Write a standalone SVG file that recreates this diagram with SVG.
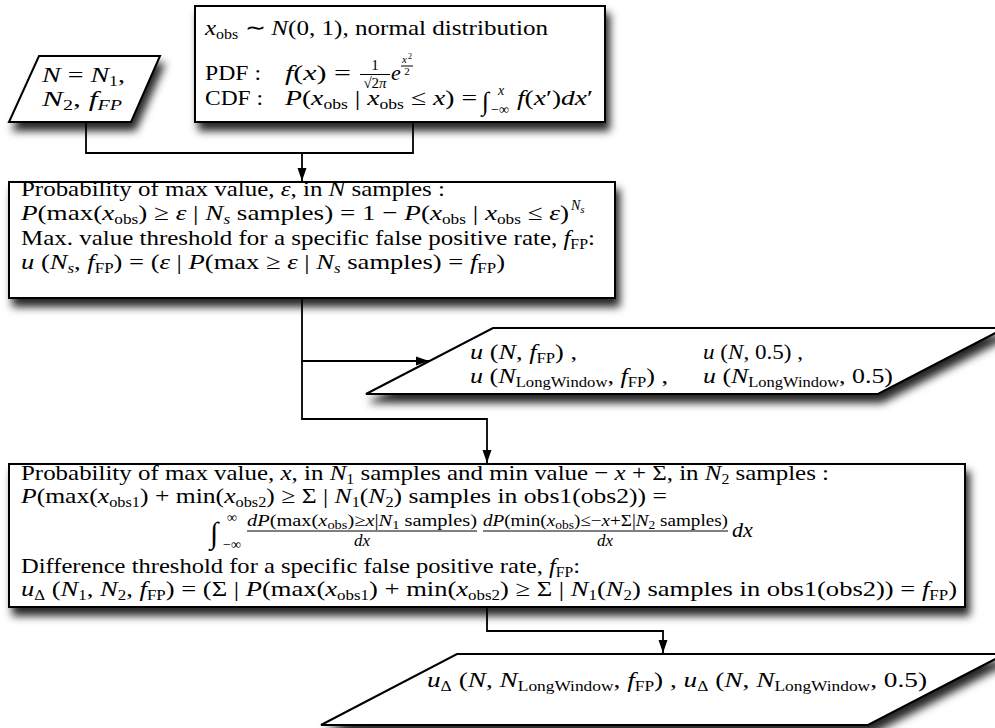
<svg xmlns="http://www.w3.org/2000/svg" width="995" height="728" viewBox="0 0 995 728">
<defs>
<style>
.t{font-family:"Liberation Serif","Times New Roman",serif;font-size:22px;fill:#000}
.i{font-style:italic}
.s{font-size:14px}
.f{font-size:17px}
.shape{fill:#fff;stroke:#000;stroke-width:2;filter:url(#sh)}
.con{fill:none;stroke:#000;stroke-width:1.8}
.bar{stroke:#000;stroke-width:1}
</style>
<filter id="sh" x="-10%" y="-10%" width="130%" height="160%">
<feDropShadow dx="4" dy="8" stdDeviation="4.5" flood-color="#000" flood-opacity="0.85"/>
</filter>
<marker id="ah" markerUnits="userSpaceOnUse" markerWidth="14" markerHeight="10" refX="13" refY="5" orient="auto">
<path d="M0,0.5 L13,5 L0,9.5 z" fill="#000"/>
</marker>
</defs>
<rect width="995" height="728" fill="#fff"/>

<g id="connectors">
<path class="con" d="M86,122 V153 H302"/>
<path class="con" d="M413,122 V153 H302"/>
<path class="con" d="M302,153 V181" marker-end="url(#ah)"/>
<path class="con" d="M302,298 V361 H429" marker-end="url(#ah)"/>
<path class="con" d="M302,361 V419 H487 V463" marker-end="url(#ah)"/>
<path class="con" d="M487,607 V631 H663 V653" marker-end="url(#ah)"/>
</g>

<g id="input">
<polygon class="shape" points="39,56 160,56 131,122 9,122"/>
<text class="t" x="42" y="82" textLength="83" lengthAdjust="spacingAndGlyphs"><tspan class="i">N</tspan> = <tspan class="i">N</tspan><tspan class="s" dy="4">1</tspan><tspan dy="-4">,</tspan></text>
<text class="t" x="42" y="106" textLength="80" lengthAdjust="spacingAndGlyphs"><tspan class="i">N</tspan><tspan class="s" dy="4">2</tspan><tspan dy="-4">,  </tspan><tspan class="i">f</tspan><tspan class="s i" dy="4">FP</tspan></text>
</g>

<g id="distribution">
<rect class="shape" x="195" y="6" width="410" height="116"/>
<text class="t" x="205" y="35" textLength="343" lengthAdjust="spacingAndGlyphs"><tspan class="i">x</tspan><tspan class="s" dy="4">obs</tspan><tspan dy="-4"> ∼ </tspan><tspan class="i">N</tspan>(0, 1),  normal distribution</text>
<text class="t" x="205" y="80" textLength="56" lengthAdjust="spacingAndGlyphs">PDF :</text>
<text class="t" x="285" y="80" textLength="66" lengthAdjust="spacingAndGlyphs"><tspan class="i">f</tspan>(<tspan class="i">x</tspan>) =</text>
<text class="t" x="375" y="70" text-anchor="middle" style="font-size:15px">1</text>
<line class="bar" x1="360" y1="74.5" x2="390" y2="74.5"/>
<text class="t" x="375" y="88" text-anchor="middle" style="font-size:15px">√2<tspan class="i">π</tspan></text>
<text class="t i" x="391" y="80">e</text>
<text class="t i" x="402" y="63" style="font-size:11px">x</text>
<text class="t" x="408" y="59" style="font-size:8px">2</text>
<line class="bar" x1="401" y1="66" x2="413" y2="66"/>
<text class="t" x="407" y="75" text-anchor="middle" style="font-size:11px">2</text>
<text class="t" x="205" y="105" textLength="58" lengthAdjust="spacingAndGlyphs">CDF :</text>
<text class="t" x="285" y="105" textLength="192" lengthAdjust="spacingAndGlyphs"><tspan class="i">P</tspan>(<tspan class="i">x</tspan><tspan class="s" dy="4">obs</tspan><tspan dy="-4"> | </tspan><tspan class="i">x</tspan><tspan class="s" dy="4">obs</tspan><tspan dy="-4"> ≤ </tspan><tspan class="i">x</tspan>) =</text>
<text class="t" x="482" y="110" style="font-size:26px">∫</text>
<text class="t s i" x="498" y="95">x</text>
<text class="t s" x="491" y="114">−∞</text>
<text class="t" x="517" y="105" textLength="76" lengthAdjust="spacingAndGlyphs"><tspan class="i">f</tspan>(<tspan class="i">x</tspan>′)<tspan class="i">dx</tspan>′</text>
</g>

<g id="max-threshold">
<rect class="shape" x="9" y="182" width="606" height="116"/>
<text class="t" x="21" y="196" textLength="424" lengthAdjust="spacingAndGlyphs">Probability of max value, <tspan class="i">ε</tspan>,  in <tspan class="i">N</tspan> samples :</text>
<text class="t" x="21" y="220" textLength="548" lengthAdjust="spacingAndGlyphs"><tspan class="i">P</tspan>(max(<tspan class="i">x</tspan><tspan class="s" dy="4">obs</tspan><tspan dy="-4">) ≥ </tspan><tspan class="i">ε</tspan> | <tspan class="i">N</tspan><tspan class="s i" dy="4">s</tspan><tspan dy="-4"> samples) = 1 − </tspan><tspan class="i">P</tspan>(<tspan class="i">x</tspan><tspan class="s" dy="4">obs</tspan><tspan dy="-4"> | </tspan><tspan class="i">x</tspan><tspan class="s" dy="4">obs</tspan><tspan dy="-4"> ≤ </tspan><tspan class="i">ε</tspan>)</text>
<text class="t s i" x="571" y="210">N<tspan style="font-size:11px" dy="3">s</tspan></text>
<text class="t" x="21" y="245" textLength="574" lengthAdjust="spacingAndGlyphs">Max. value threshold for a specific false positive rate, <tspan class="i">f</tspan><tspan class="s" dy="4">FP</tspan><tspan dy="-4">:</tspan></text>
<text class="t" x="21" y="269" textLength="484" lengthAdjust="spacingAndGlyphs"><tspan class="i">u</tspan> (<tspan class="i">N</tspan><tspan class="s i" dy="4">s</tspan><tspan dy="-4">, </tspan><tspan class="i">f</tspan><tspan class="s" dy="4">FP</tspan><tspan dy="-4">) = (</tspan><tspan class="i">ε</tspan> | <tspan class="i">P</tspan>(max ≥ <tspan class="i">ε</tspan> | <tspan class="i">N</tspan><tspan class="s i" dy="4">s</tspan><tspan dy="-4"> samples) = </tspan><tspan class="i">f</tspan><tspan class="s" dy="4">FP</tspan><tspan dy="-4">)</tspan></text>
</g>

<g id="max-output">
<polygon class="shape" points="493,328 1005,328 878,394 366,394"/>
<text class="t" x="470" y="359" textLength="107" lengthAdjust="spacingAndGlyphs"><tspan class="i">u</tspan> (<tspan class="i">N</tspan>, <tspan class="i">f</tspan><tspan class="s" dy="4">FP</tspan><tspan dy="-4">) ,</tspan></text>
<text class="t" x="470" y="383" textLength="198" lengthAdjust="spacingAndGlyphs"><tspan class="i">u</tspan> (<tspan class="i">N</tspan><tspan class="s" dy="4">LongWindow</tspan><tspan dy="-4">, </tspan><tspan class="i">f</tspan><tspan class="s" dy="4">FP</tspan><tspan dy="-4">) ,</tspan></text>
<text class="t" x="703" y="359" textLength="100" lengthAdjust="spacingAndGlyphs"><tspan class="i">u</tspan> (<tspan class="i">N</tspan>, 0.5) ,</text>
<text class="t" x="703" y="383" textLength="190" lengthAdjust="spacingAndGlyphs"><tspan class="i">u</tspan> (<tspan class="i">N</tspan><tspan class="s" dy="4">LongWindow</tspan><tspan dy="-4">, 0.5)</tspan></text>
</g>

<g id="difference-threshold">
<rect class="shape" x="9" y="464" width="956" height="143"/>
<text class="t" x="21" y="480" textLength="808" lengthAdjust="spacingAndGlyphs">Probability of max value, <tspan class="i">x</tspan>,  in <tspan class="i">N</tspan><tspan class="s" dy="4">1</tspan><tspan dy="-4"> samples and min value  − </tspan><tspan class="i">x</tspan> + Σ,  in <tspan class="i">N</tspan><tspan class="s" dy="4">2</tspan><tspan dy="-4"> samples :</tspan></text>
<text class="t" x="21" y="503" textLength="646" lengthAdjust="spacingAndGlyphs"><tspan class="i">P</tspan>(max(<tspan class="i">x</tspan><tspan class="s" dy="4">obs1</tspan><tspan dy="-4">) + min(</tspan><tspan class="i">x</tspan><tspan class="s" dy="4">obs2</tspan><tspan dy="-4">) ≥ Σ | </tspan><tspan class="i">N</tspan><tspan class="s" dy="4">1</tspan><tspan dy="-4">(</tspan><tspan class="i">N</tspan><tspan class="s" dy="4">2</tspan><tspan dy="-4">) samples in obs1(obs2)) =</tspan></text>
<text class="t" x="210" y="543" style="font-size:30px">∫</text>
<text class="t s" x="227" y="522">∞</text>
<text class="t s" x="223" y="549">−∞</text>
<text class="t f" x="247" y="526" textLength="230" lengthAdjust="spacingAndGlyphs"><tspan class="i">dP</tspan>(max(<tspan class="i">x</tspan><tspan style="font-size:12px" dy="3">obs</tspan><tspan dy="-3">)≥</tspan><tspan class="i">x</tspan>|<tspan class="i">N</tspan><tspan style="font-size:12px" dy="3">1</tspan><tspan dy="-3"> samples)</tspan></text>
<line class="bar" x1="247" y1="531" x2="477" y2="531"/>
<text class="t f i" x="362" y="546" text-anchor="middle">dx</text>
<text class="t f" x="483" y="526" textLength="245" lengthAdjust="spacingAndGlyphs"><tspan class="i">dP</tspan>(min(<tspan class="i">x</tspan><tspan style="font-size:12px" dy="3">obs</tspan><tspan dy="-3">)≤−</tspan><tspan class="i">x</tspan>+Σ|<tspan class="i">N</tspan><tspan style="font-size:12px" dy="3">2</tspan><tspan dy="-3"> samples)</tspan></text>
<line class="bar" x1="483" y1="531" x2="728" y2="531"/>
<text class="t f i" x="605" y="546" text-anchor="middle">dx</text>
<text class="t i" x="732" y="537">dx</text>
<text class="t" x="21" y="573" textLength="559" lengthAdjust="spacingAndGlyphs">Difference threshold for a specific false positive rate, <tspan class="i">f</tspan><tspan class="s" dy="4">FP</tspan><tspan dy="-4">:</tspan></text>
<text class="t" x="21" y="596" textLength="936" lengthAdjust="spacingAndGlyphs"><tspan class="i">u</tspan><tspan class="s" dy="4">Δ</tspan><tspan dy="-4"> (</tspan><tspan class="i">N</tspan><tspan class="s" dy="4">1</tspan><tspan dy="-4">, </tspan><tspan class="i">N</tspan><tspan class="s" dy="4">2</tspan><tspan dy="-4">, </tspan><tspan class="i">f</tspan><tspan class="s" dy="4">FP</tspan><tspan dy="-4">) = (Σ | </tspan><tspan class="i">P</tspan>(max(<tspan class="i">x</tspan><tspan class="s" dy="4">obs1</tspan><tspan dy="-4">) + min(</tspan><tspan class="i">x</tspan><tspan class="s" dy="4">obs2</tspan><tspan dy="-4">) ≥ Σ | </tspan><tspan class="i">N</tspan><tspan class="s" dy="4">1</tspan><tspan dy="-4">(</tspan><tspan class="i">N</tspan><tspan class="s" dy="4">2</tspan><tspan dy="-4">) samples in obs1(obs2)) = </tspan><tspan class="i">f</tspan><tspan class="s" dy="4">FP</tspan><tspan dy="-4">)</tspan></text>
</g>

<g id="difference-output">
<polygon class="shape" points="457,654 1005,654 868,725 321,725"/>
<text class="t" x="427" y="687" textLength="500" lengthAdjust="spacingAndGlyphs"><tspan class="i">u</tspan><tspan class="s" dy="4">Δ</tspan><tspan dy="-4"> (</tspan><tspan class="i">N</tspan>, <tspan class="i">N</tspan><tspan class="s" dy="4">LongWindow</tspan><tspan dy="-4">, </tspan><tspan class="i">f</tspan><tspan class="s" dy="4">FP</tspan><tspan dy="-4">) ,  </tspan><tspan class="i">u</tspan><tspan class="s" dy="4">Δ</tspan><tspan dy="-4"> (</tspan><tspan class="i">N</tspan>, <tspan class="i">N</tspan><tspan class="s" dy="4">LongWindow</tspan><tspan dy="-4">, 0.5)</tspan></text>
</g>
</svg>
